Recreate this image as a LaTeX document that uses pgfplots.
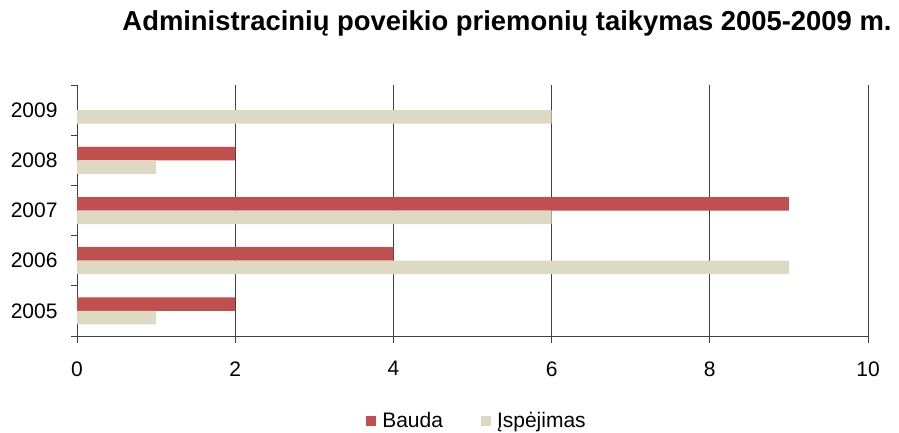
\documentclass[border=0pt]{standalone}
\usepackage{fontspec}
\setmainfont{Liberation Sans}
\usepackage{pgfplots}
\pgfplotsset{compat=1.18}
\definecolor{bauda}{HTML}{C0504D}
\definecolor{ispej}{HTML}{DDD9C3}
\definecolor{axgray}{HTML}{404040}

\begin{document}
\begin{tikzpicture}[x=1pt,y=1pt]
\path[use as bounding box] (0,0) rectangle (899,432);
\node[anchor=base,font=\fontsize{27.4}{32}\selectfont\bfseries] at (507,401)
  {Administracinių poveikio priemonių taikymas 2005-2009 m.};
\begin{axis}[
  at={(77pt,96pt)}, anchor=south west,
  scale only axis, width=791pt, height=251pt,
  xbar, bar width=13.5pt,
  xmin=0, xmax=10, ymin=-0.5, ymax=4.5,
  xtick={0,2,...,10},
  ytick={0,...,4}, yticklabels={2005,2006,2007,2008,2009},
  minor ytick={-0.5,0.5,...,4.5},
  axis x line*=bottom, axis y line*=left,
  axis line style={axgray, line width=1pt, -},
  tick align=outside,
  major tick length=7pt, minor tick length=6pt,
  tick style={axgray, line width=1pt},
  every major y tick/.append style={draw=none},
  xmajorgrids, major grid style={axgray, line width=1pt},
  /pgf/number format/assume math mode=true,
  ticklabel style={font=\fontsize{21}{24}\selectfont},
  xticklabel style={yshift=-15pt},
  yticklabel style={xshift=-9pt},
  legend columns=2,
  legend style={at={(axis description cs:0.5057,-0.3386)}, anchor=center,
    draw=none, fill=none, font=\fontsize{21}{24}\selectfont,
    /tikz/every even column/.append style={column sep=36pt}},
  legend image code/.code={\fill[#1] (0pt,-5pt) rectangle (10pt,5pt);
    \path (14pt,0pt);},
]
\addplot[fill=bauda, draw=none, bar shift=6.75pt] coordinates {
  (2,0) (4,1) (9,2) (2,3)
};
\addplot[fill=ispej, draw=none, bar shift=-6.75pt] coordinates {
  (1,0) (9,1) (6,2) (1,3) (6,4)
};
\legend{Bauda, Įspėjimas}
\end{axis}
\end{tikzpicture}
\end{document}
